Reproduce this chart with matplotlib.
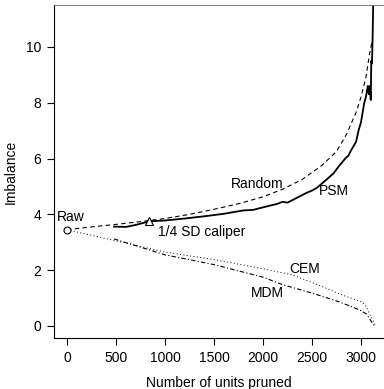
import matplotlib.pyplot as plt

plt.rcParams['font.family'] = ['Liberation Sans', 'DejaVu Sans']
plt.rcParams['font.size'] = 10

# values
random_x = [0, 250, 500, 750, 1000, 1250, 1500, 1750, 2000, 2200, 2400, 2600, 2750, 2850, 2950, 3000, 3050, 3090, 3110]
random_y = [3.45, 3.55, 3.64, 3.74, 3.85, 4.0, 4.18, 4.38, 4.63, 4.9, 5.25, 5.75, 6.25, 6.85, 7.65, 8.2, 8.9, 9.8, 10.15]

psm_x = [480, 600, 700, 840, 1000, 1200, 1400, 1600, 1800, 1900, 2000, 2150, 2200, 2250, 2350, 2450, 2500, 2550, 2650,
         2720, 2780, 2840, 2870, 2900, 2950, 2975, 3000, 3034, 3050, 3060, 3070, 3080, 3090, 3100, 3105, 3112, 3118, 3125]
psm_y = [3.56, 3.55, 3.62, 3.75, 3.78, 3.85, 3.93, 4.02, 4.14, 4.16, 4.25, 4.38, 4.45, 4.42, 4.6, 4.78, 4.85, 4.95, 5.25,
         5.47, 5.75, 6.0, 6.1, 6.3, 6.6, 7.0, 7.3, 8.0, 8.2, 8.4, 8.6, 8.3, 8.6, 8.1, 9.5, 9.4, 10.2, 11.6]

cem_x = [0, 500, 1000, 1500, 2000, 2300, 2600, 2800, 3000, 3040, 3150]
cem_y = [3.45, 3.05, 2.65, 2.38, 2.05, 1.83, 1.42, 1.12, 0.88, 0.78, 0.0]

mdm_x = [480, 1000, 1500, 2000, 2200, 2500, 2750, 2900, 3000, 3060, 3130]
mdm_y = [3.12, 2.55, 2.2, 1.75, 1.48, 1.18, 0.9, 0.7, 0.55, 0.42, 0.02]

raw = (0, 3.45)
caliper = (840, 3.75)

fig = plt.figure(figsize=(3.84, 3.89), dpi=100)
ax = fig.add_axes([54 / 384, 51 / 389, 330 / 384, 333 / 389])

ax.plot(random_x, random_y, color='black', lw=0.8, ls=(0, (4, 3)))
ax.plot(psm_x, psm_y, color='black', lw=1.3)
ax.plot(cem_x, cem_y, color='black', lw=0.7, ls=(0, (1, 2.5)))
ax.plot(mdm_x, mdm_y, color='black', lw=0.8, ls=(0, (4, 2, 1, 2)))

ax.plot([raw[0]], [raw[1]], 'o', mfc='white', mec='black', ms=5, mew=0.8)
ax.plot([caliper[0]], [caliper[1]], '^', mfc='white', mec='black', ms=6, mew=0.8)

ax.text(34, 3.92, 'Raw', ha='center', va='center')
ax.text(1377, 3.35, '1/4 SD caliper', ha='center', va='center')
ax.text(1939, 5.1, 'Random', ha='center', va='center')
ax.text(2721, 4.85, 'PSM', ha='center', va='center')
ax.text(2422, 2.03, 'CEM', ha='center', va='center')
ax.text(2041, 1.19, 'MDM', ha='center', va='center')

ax.set_xlim(-133, 3235)
ax.set_ylim(-0.43, 11.5)
ax.set_xticks([0, 500, 1000, 1500, 2000, 2500, 3000])
ax.set_yticks([0, 2, 4, 6, 8, 10])
ax.tick_params(direction='out', length=5, width=0.8, pad=4)
ax.spines['right'].set_visible(False)
ax.spines['top'].set_color('#666666')
ax.spines['top'].set_linewidth(0.6)

ax.set_xlabel('Number of units pruned', labelpad=8)
ax.set_ylabel('Imbalance', labelpad=6)

plt.savefig('out.png', dpi=100)
